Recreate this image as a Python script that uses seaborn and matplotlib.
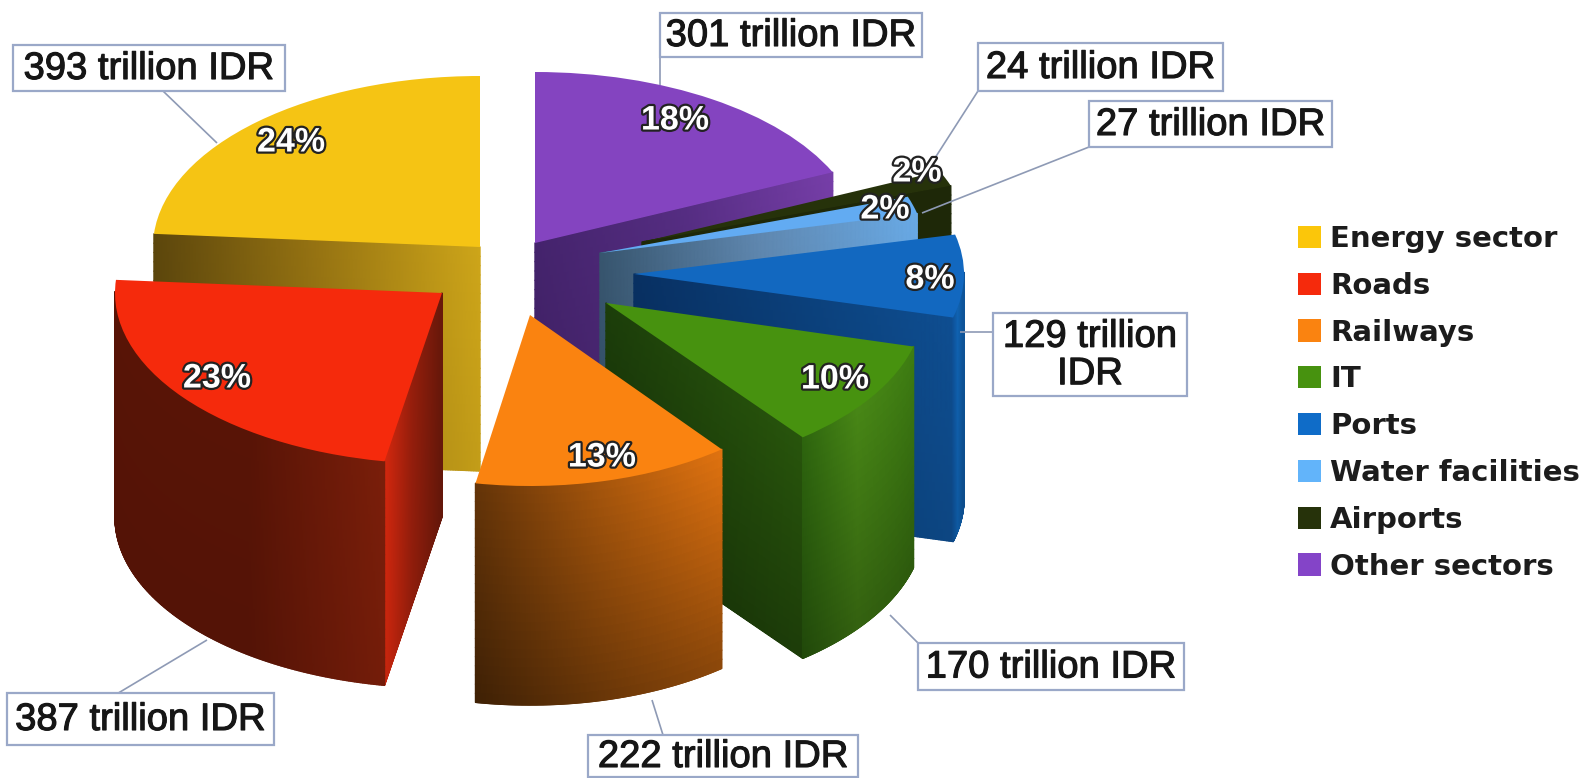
import numpy as np
import matplotlib
matplotlib.use("Agg")
import matplotlib.pyplot as plt
import matplotlib.patheffects as pe
from matplotlib.collections import PolyCollection
from matplotlib.patches import Patch, Rectangle
from matplotlib.transforms import Affine2D
import seaborn as sns

# ---- data ----
categories = ["Energy sector", "Roads", "Railways", "IT", "Ports",
              "Water facilities", "Airports", "Other sectors"]
values = [393, 387, 222, 170, 129, 27, 24, 301]
percent_labels = ["24%", "23%", "13%", "10%", "8%", "2%", "2%", "18%"]
value_labels = ["393 trillion IDR", "387 trillion IDR", "222 trillion IDR", "170 trillion IDR",
                "129 trillion\nIDR", "27 trillion IDR", "24 trillion IDR", "301 trillion IDR"]

# ---- styling and layout (pixels of the 1584x778 canvas) ----
top_colors = ["#F5C414", "#F52A0C", "#FA8310", "#47920F", "#1268C0", "#62ABF2", "#26320A", "#8444C0"]
legend_colors = ["#FBC60A", "#F52A0C", "#FA8310", "#47920F", "#0F6CC8", "#62B4FA", "#26320A", "#8444C8"]
apex_x = [480, 442, 530, 606, 634, 600, 642, 535]
apex_y = [247, 293, 315, 303, 274, 253, 242, 243]
radius_x = [327, 327, 310, 318, 330, 326, 327, 327]
radius_y = 171
depths = [224, 224, 219, 221, 224, 224, 224, 224]
draw_order = [7, 6, 5, 4, 0, 3, 2, 1]
# colour stops left -> right: radial wall, then outer wall; and downward darkening
side_stops = [
    [(92, 70, 12), (150, 115, 18), (205, 165, 25)],
    [(215, 40, 14), (150, 30, 12), (105, 24, 10)],
    [(120, 62, 10), (120, 62, 10)],
    [(28, 62, 10), (40, 85, 12)],
    [(8, 48, 98), (14, 78, 145)],
    [(55, 85, 110), (95, 135, 175), (105, 170, 230)],
    [(30, 40, 8), (30, 40, 8)],
    [(68, 35, 108), (85, 45, 130), (118, 62, 168)],
]
outer_stops = [
    [(150, 115, 18), (150, 115, 18)],
    [(88, 20, 6), (88, 20, 6), (122, 30, 10)],
    [(100, 52, 8), (165, 85, 12), (225, 115, 16)],
    [(45, 100, 14), (72, 135, 22), (62, 125, 18)],
    [(14, 80, 150), (16, 100, 180), (14, 85, 155)],
    [(60, 100, 140), (60, 100, 140)],
    [(30, 40, 8), (30, 40, 8)],
    [(70, 35, 110), (70, 35, 110)],
]
fade = [0.05, 0.05, 0.38, 0.28, 0.1, 0.1, 0.0, 0.1]
pct_pos = [(291, 143), (217, 379), (602, 458), (835, 380), (930, 280), (885, 210), (917, 173), (675, 121)]
# label boxes: left, right, top, bottom
box_extents = [(13, 285, 45, 91), (7, 274, 693, 745), (588, 858, 735, 777), (918, 1184, 643, 690),
               (993, 1187, 313, 396), (1089, 1332, 101, 147), (978, 1223, 43, 91), (660, 922, 13, 57)]
leader_lines = [((163, 91), (217, 143)), ((115, 695), (207, 640)), ((663, 735), (652, 700)),
                ((918, 643), (890, 615)), ((993, 332), (960, 332)), ((1089, 147), (922, 213)),
                ((978, 91), (935, 158)), ((660, 57), (660, 85))]
box_edge = "#9AA8C8"

sns.set_theme(style="white")
plt.rcParams["font.family"] = ["Liberation Sans", "DejaVu Sans"]

fig = plt.figure(figsize=(15.84, 7.78), dpi=100, facecolor="white")
ax = fig.add_axes([0, 0, 1, 1])
wedges, _ = ax.pie(values, startangle=90, counterclock=True, colors=top_colors,
                   wedgeprops=dict(linewidth=0))
ax.set_aspect("auto")
ax.set_xlim(0, 1584)
ax.set_ylim(778, 0)
ax.axis("off")


def project(i, theta):
    a = np.radians(theta)
    return np.column_stack([apex_x[i] + radius_x[i] * np.cos(a),
                            apex_y[i] - radius_y * np.sin(a)])


def draw_wall(top_line, stops, vfade, depth, z):
    stops = np.array(stops, dtype=float) / 255
    xs = top_line[:, 0]
    span = max(xs.max() - xs.min(), 1e-6)
    pos = np.linspace(0, 1, len(stops))
    rows = 24
    quads, cols = [], []
    for k in range(len(top_line) - 1):
        p, q = top_line[k], top_line[k + 1]
        t = ((p[0] + q[0]) / 2 - xs.min()) / span
        base = np.array([np.interp(t, pos, stops[:, c]) for c in range(3)])
        for r in range(rows):
            d0, d1 = depth * r / rows, depth * (r + 1) / rows
            quads.append([(p[0], p[1] + d0), (q[0], q[1] + d0), (q[0], q[1] + d1), (p[0], p[1] + d1)])
            cols.append(base * (1 - vfade * (r + .5) / rows))
    ax.add_collection(PolyCollection(quads, facecolors=cols, edgecolors=cols, linewidths=1.0, zorder=z),
                      autolim=False)


for rank, i in enumerate(draw_order):
    w = wedges[i]
    z = 2 + rank
    t1, t2 = w.theta1, w.theta2
    apex = np.array([apex_x[i], apex_y[i]], dtype=float)
    for th, visible in ((t1, np.cos(np.radians(t1)) > 1e-6), (t2, np.cos(np.radians(t2)) < -1e-6)):
        if visible:
            end = project(i, np.array([th]))[0]
            line = apex + np.linspace(0, 1, 200)[:, None] * (end - apex)
            line = line[np.argsort(line[:, 0])]
            draw_wall(line, side_stops[i], fade[i], depths[i], z)
    th = np.linspace(t1, t2, 300)
    th = th[np.sin(np.radians(th)) <= 0.01]
    if len(th) > 1:
        draw_wall(project(i, th), outer_stops[i], fade[i], depths[i], z)
    w.set_transform(Affine2D().scale(radius_x[i], -radius_y).translate(apex_x[i], apex_y[i]) + ax.transData)
    w.set_zorder(z + 0.5)
    w.set_clip_on(False)

for (p, q) in leader_lines:
    ax.plot([p[0], q[0]], [p[1], q[1]], color="#8E9AB5", lw=1.2, zorder=20, solid_capstyle="butt")

for i, (x0, x1, y0, y1) in enumerate(box_extents):
    ax.add_patch(Rectangle((x0, y0), x1 - x0, y1 - y0, fc="white", ec=box_edge, lw=1.6, zorder=21,
                           clip_on=False))
    ax.text((x0 + x1) / 2, (y0 + y1) / 2 + 1, value_labels[i], ha="center", va="center", fontsize=27.5,
            color="#161616", linespacing=1.05, zorder=21.5,
            path_effects=[pe.withStroke(linewidth=0.8, foreground="#161616")])

for i, (x, y) in enumerate(pct_pos):
    ax.text(x, y, percent_labels[i], ha="center", va="center", fontsize=24.5, fontweight="bold",
            color="white", zorder=22,
            path_effects=[pe.withStroke(linewidth=3.2, foreground="#222222")])

handles = [Patch(facecolor=c, edgecolor="none") for c in legend_colors]
leg = ax.legend(handles, categories, loc="upper left", bbox_to_anchor=(1298, 225),
                bbox_transform=ax.transData, frameon=False, borderpad=0, borderaxespad=0,
                prop=dict(family="DejaVu Sans", weight="bold", size=21),
                handlelength=0.8, handleheight=0.8, handletextpad=0.3, labelspacing=0.645,
                labelcolor="#1c1c1c")
leg.set_zorder(23)

fig.savefig("out.png", dpi=100, facecolor="white")
